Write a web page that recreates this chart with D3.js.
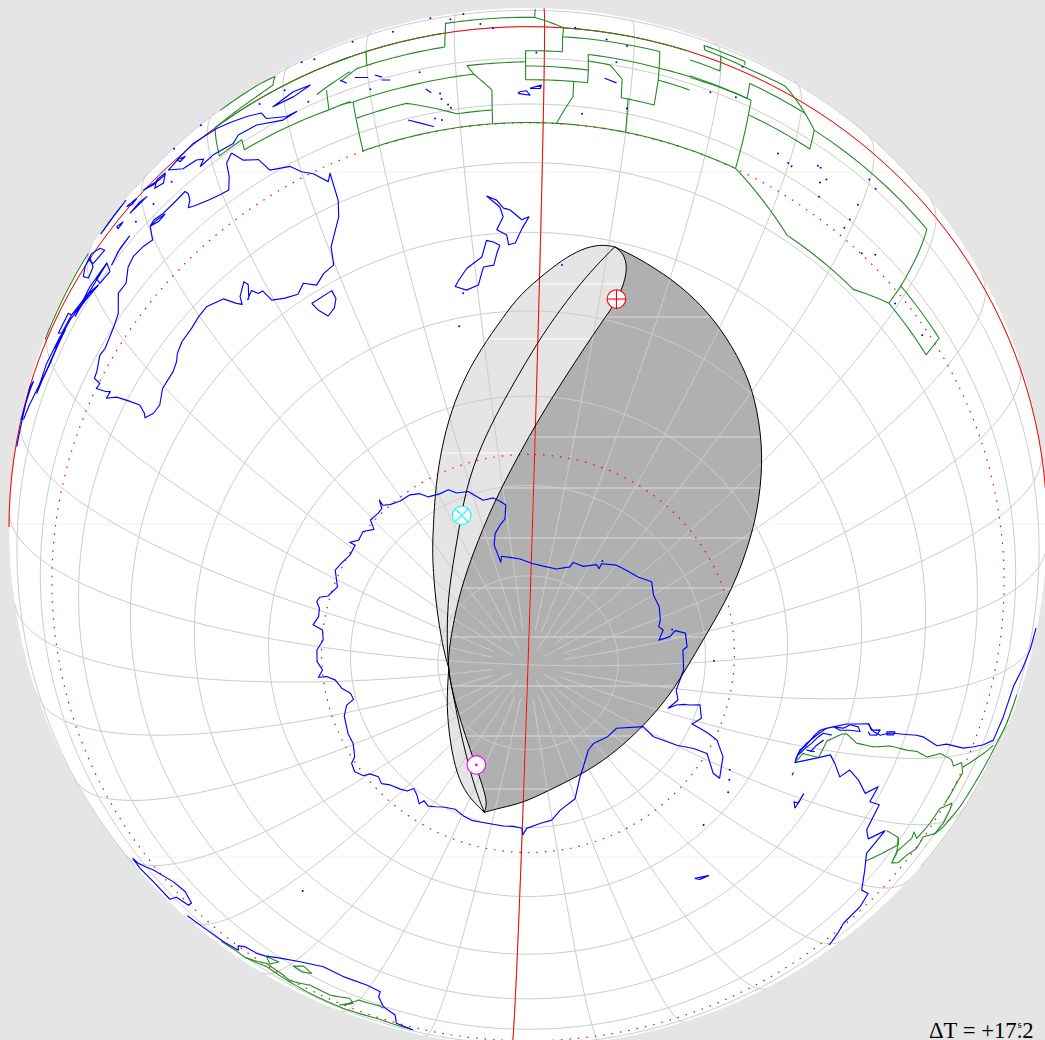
<!DOCTYPE html>
<html>
<head>
<meta charset="utf-8">
<script src="https://cdn.jsdelivr.net/npm/d3@7"></script>
<style>
body{margin:0;background:#e5e5e5;overflow:hidden}
svg{display:block}
.coast,.border,.grid,.ecl,.red{fill:none}
.coast{stroke:#0000ff;stroke-width:1.15;stroke-linejoin:round}
.border{stroke:#228b22;stroke-width:1.1;stroke-linejoin:round}
.grid{stroke:#cccccc;stroke-width:1}
.ecl{stroke:#000;stroke-width:1}
</style>
</head>
<body>
<div id="map"></div>
<script>
// everything below is lon,lat pairs in tenths of a degree, lon running 0..3600
var antarctica=[3598,-690,1,-699,29,-701,62,-700,100,-700,138,-699,165,-698,195,-700,229,-704,266,-700,289,-695,308,-691,329,-694,334,-687,359,-695,380,-699,389,-691,408,-687,438,-682,457,-675,479,-678,500,-672,505,-664,527,-658,552,-661,565,-669,603,-676,637,-676,691,-680,723,-687,738,-697,759,-695,778,-686,804,-680,815,-670,813,-660,834,-666,857,-660,890,-660,921,-667,949,-665,957,-653,983,-658,1006,-657,1021,-652,1035,-654,1047,-663,1082,-670,1122,-660,1148,-663,1180,-667,1212,-666,1209,-659,1229,-666,1256,-664,1282,-672,1294,-662,1323,-663,1339,-662,1349,-653,1347,-660,1364,-665,1393,-669,1426,-670,1452,-675,1469,-683,1505,-686,1533,-686,1553,-693,1589,-696,1610,-704,1628,-710,1663,-710,1684,-715,1702,-720,1692,-735,1668,-741,1641,-749,1624,-761,1628,-769,1634,-781,1646,-775,1687,-778,1739,-781,1802,-786,1869,-788,1946,-788,2012,-781,2019,-775,2075,-774,2126,-765,2147,-767,2143,-761,2201,-752,2258,-748,2302,-744,2352,-735,2401,-741,2455,-741,2508,-745,2533,-749,2553,-745,2591,-752,2587,-739,2569,-732,2588,-721,2639,-721,2649,-726,2726,-725,2805,-730,2842,-725,2882,-733,2862,-725,2854,-717,2852,-710,2845,-698,2887,-691,2913,-699,2919,-688,2926,-676,2937,-662,2974,-645,3029,-633,3025,-644,2983,-665,2985,-683,2998,-703,3009,-733,2991,-750,3062,-775,3123,-776,3205,-781,3248,-778,3314,-763,3349,-753,3402,-729,3467,-719,3502,-708,3542,-705,3586,-699,3598,-690];
var australia=[1426,-108,1417,-123,1415,-154,1409,-178,1397,-175,1381,-168,1364,-158,1355,-151,1360,-139,1361,-123,1358,-113,1339,-116,1323,-116,1309,-110,1302,-115,1298,-146,1284,-139,1267,-136,1255,-143,1243,-165,1228,-164,1214,-193,1198,-202,1174,-210,1163,-207,1146,-219,1138,-221,1139,-237,1131,-235,1137,-254,1142,-264,1132,-263,1143,-280,1151,-303,1158,-324,1154,-338,1150,-342,1163,-351,1178,-353,1197,-343,1224,-342,1237,-337,1245,-330,1260,-324,1282,-322,1298,-318,1315,-316,1340,-326,1352,-345,1358,-352,1361,-341,1376,-327,1379,-335,1370,-352,1368,-352,1379,-345,1385,-355,1392,-356,1397,-375,1415,-384,1434,-390,1448,-381,1464,-393,1480,-384,1498,-380,1504,-355,1527,-320,1533,-296,1533,-249,1528,-261,1513,-237,1500,-224,1489,-205,1464,-191,1455,-159,1437,-140,1426,-108];
var tasmania=[1446,-411,1481,-410,1482,-422,1474,-432,1460,-437,1450,-423,1446,-411];
var nzSouth=[1740,-416,1731,-411,1721,-408,1712,-429,1687,-441,1672,-454,1665,-461,1682,-468,1702,-464,1713,-442,1729,-441,1735,-426,1740,-416];
var nzNorth=[1726,-347,1743,-364,1747,-378,1737,-395,1751,-403,1753,-416,1763,-414,1773,-395,1783,-379,1773,-383,1757,-369,1748,-366,1739,-354,1726,-347];
var newGuinea=[1513,-100,1500,-100,1476,-77,1471,-53,1453,-37,1413,-7,1380,5,1361,-4,1343,-15,1363,-53,1382,-60,1391,-73,1385,-85,1404,-81,1431,-88,1439,-75,1463,-79,1495,-104,1513,-100];
var islands=[
  [1302,-115,1312,-116,1325,-121,1314,-123,1302,-115],
  [1236,-100,1251,-90,1272,-86,1255,-88,1236,-100],
  [1161,-89,1192,-88,1231,-82,1197,-79,1161,-89],
  [1114,-72,1152,-77,1173,-87,1194,-93,1209,-102],
  [1280,-27,1297,-26,1308,-33,1289,-30,1280,-27],
  [1224,52,1248,56,1270,62],
  [1303,5,1325,-16,1338,-21,1319,-16,1303,5],
  [1356,-5,1368,-20,1360,-22,1356,-5],
  [1257,-18,1268,-29,1259,-31,1257,-18],
  [979,-17,999,-18,1024,-11,1045,-2,1057,-21,1045,-14,1006,-3],
  [1014,-29,1054,-59,1088,-76,1127,-77,1140,-78],
  [1057,-68,1098,-79,1140,-78,1128,-71,1092,-63,1057,-68],
  [1157,-73,1192,-88,1209,-102,1177,-89,1157,-73],
  [1275,14,1292,0,1284,-4,1275,14],
  [1209,12,1226,-17,1233,-43,1211,-34,1203,5,1209,12],
  [1191,-27,1199,-54,1210,-43,1206,8,1196,-1,1191,-27],
  [1325,-10,1338,-15,1334,-43,1321,-33,1325,-10],
  [1231,-108,1231,-82,1210,-83,1212,-103,1231,-108],
  [1133,-71,1157,-73,1153,-56,1128,-56,1133,-71],
  [1533,-44,1512,-40,1486,-54,1512,-56,1533,-44],
  [1770,-179,1784,-183,1780,-174,1772,-176,1770,-179],
  [1784,-169,1797,-162,1796,-169,1784,-169],
  [1639,-203,1668,-225,1653,-214,1639,-203],
  [1869,-135,1883,-141],[1585,-74,1600,-86],[1608,-85,1616,-96],[1615,-103,1625,-109],[1568,-66,1575,-82],[1664,-149,1670,-159],
  [3242,-549,3219,-540,3236,-543,3242,-549],
  [3021,-517,2990,-518,3010,-517,3010,-524,3021,-517],
  [2962,-548,2956,-548],
  [2930,-554,2908,-554,2896,-548,2877,-543,2863,-537,2858,-529],
  [2919,-553,2903,-548,2891,-542,2876,-536,2868,-531,2870,-518],
  [2908,-539,2893,-534,2881,-527],
  [2906,-545,2906,-533],
  [2854,-520,2855,-505,2848,-496,2851,-483,2859,-478,2858,-494,2859,-509,2854,-520],
  [2844,-469,2856,-461,2855,-447,2864,-450,2864,-461,2859,-465],
  [2858,-435,2858,-421,2863,-422,2863,-433,2858,-435]
];
var tinyIslands=[1286,-70,1347,77,1386,84,1345,-61,1315,-73,1520,86,1537,63,1470,-20,1528,-89,1502,-20,1671,116,1709,103,1729,21,1743,-2,1695,70,1630,64,1582,84,1659,-107,1791,-85,1834,4,1869,-27,1892,-38,1881,-91,1846,-213,1898,-190,1680,-164,1681,-176,1688,-189,1691,-196,1671,-211,1679,-216,1601,-117,1834,-441,1660,-510,1676,-471,1991,-104,2021,-91,2084,-169,2099,-176,2104,-178,2134,-145,2138,-145,2143,-174,2149,-160,2148,-200,2199,-89,2210,-98,2196,-161,2194,-198,2192,-218,2226,-233,2242,-216,2296,-252,2349,-247,2026,21,2139,-758,2698,-690,2999,-628,3022,-621,3050,-612,3146,-606,2561,-735,377,-470];
var southAmericaWest=[2936,-553,2916,-554,2893,-549,2873,-539,2858,-529,2854,-520,2847,-502,2846,-484,2845,-469,2858,-457,2864,-444,2860,-429,2862,-405,2864,-380,2867,-366,2882,-330,2881,-309,2891,-261,2895,-196,2896,-156,2868,-149,2831,-145,2801,-87,2781,-64];
var southAmericaEast=[2936,-553,2916,-524,2907,-509,2921,-497,2943,-480,2928,-470,2942,-449,2962,-426,2948,-410,2974,-410,2976,-390,3018,-384,3031,-369,3014,-347,3053,-351,3078,-326,3108,-291,3111,-265,3133,-249,3163,-244,3196,-202,3202,-194];
var madagascar=[506,-160,500,-172,493,-219,473,-254,456,-262,437,-247,434,-229,448,-213,442,-165,471,-166,490,-153,506,-160];
var africa=[414,-166,394,-185,368,-198,350,-215,357,-235,353,-253,337,-260,329,-271,314,-300,295,-324,268,-346,238,-346,205,-351,184,-346,182,-328,169,-298,150,-278,142,-233,119,-213];
var borders=[
  [2936,-553,2914,-548,2916,-524,2882,-522,2866,-504,2865,-497,2880,-477,2884,-448,2881,-421,2887,-388,2889,-368,2898,-342,2894,-316,2905,-281,2915,-268,2912,-248,2928,-229,2942,-232,2958,-233,2970,-235],
  [3064,-339,3041,-309,3032,-294,3021,-307,3013,-344],
  [3021,-307,3042,-285,3060,-275,3059,-256,3047,-248,3037,-231,3019,-237,3016,-200,3003,-192,2983,-200,2972,-209,2977,-242,2999,-245,3021,-255,3011,-276,3021,-270,3040,-284,3060,-275],
  [3018,-202,3009,-180,2984,-155,2950,-143,2907,-122,2886,-102,2851,-101],
  [2905,-143,2911,-196,2919,-236],
  [368,-189,351,-200,336,-198,318,-245,292,-238,280,-227,260,-260,232,-258,211,-282,203,-265,213,-225,201,-289,173,-296,168,-291],
  [336,-198,313,-229,283,-220,249,-212,206,-209,166,-225,121,-215],
  [296,-298,287,-317,272,-308,282,-295,296,-298],
  [327,-273,312,-282,315,-252,327,-273],
  [1096,19,1146,33,1186,43,1200,44],
  [1227,52,1262,60],
  [1413,88,1465,96,1487,79,1487,28,1466,17,1411,0,1411,-95,1442,-93,1442,-120,1549,-130,1576,-130],
  [1411,0,1445,0,1500,0,1581,0],
  [1539,-80,1580,-52],
  [1551,-79,1550,-130],
  [1569,0,1600,0,1646,0,1690,0,1690,47,1721,46,1789,45,1821,0,1869,0,1925,0,1960,0],
  [1790,118,1789,45],
  [1568,-71,1588,-50,1599,-50,1646,-50,1689,-50,1690,0],
  [1600,0,1600,-50],
  [1564,-129,1579,-133,1643,-134,1720,-132,1713,-110,1758,-110,1779,-109],
  [1820,-34,1820,-80,1779,-80,1779,-151,1850,-150,1850,-121,1779,-119],
  [1820,-34,1821,0],
  [1850,-121,1849,-81,1931,-83,1966,-82],
  [1849,-98,1874,-101,1889,-131,1890,-171,1929,-171,1930,-114,1967,-116],
  [1820,-34,1929,-32,1930,-114],
  [1720,-132,1740,-170,1739,-234],
  [1579,-133,1579,-234,1634,-234,1708,-234,1740,-234,1800,-234,1816,-234,1857,-234,1900,-234,1960,-234,1981,-234],
  [1580,-170,1640,-170,1697,-209,1739,-209],
  [1816,-234,1834,-182,1834,-152],
  [1900,-234,1898,-169],
  [1981,-234,2040,-234,2130,-291,2240,-291,2289,-261,2369,-262,2369,-221,2290,-221,2289,-261],
  [2040,-234,2039,-112,2039,-81,1965,-80],
  [2034,-81,2035,-33,2105,-35],
  [1964,-31,1999,-33,2000,30],
  [2034,-81,1966,-84],
  [2029,35,2030,56,1981,55,1981,31,2019,25,2034,23,2079,29,2105,-35,2119,-68,2289,-69,2290,-221],
  [2119,-68,2119,-121,2040,-120]
];
// limits of the eclipse
var tipNorth=[1909,-407], tipSouth=[134,-713], crossing=[843,-812];
var limitLeftUpper=[1892,-407,1868,-414,1840,-430,1811,-451,1768,-480,1739,-506,1691,-542,1644,-576,1595,-613,1547,-648,1492,-683,1426,-717,1389,-731,1328,-751,1187,-782,972,-805];
var limitLeftLower=[730,-811,512,-803,335,-785,229,-763,167,-743,133,-725];
var limitMiddle=[1874,-450,1836,-497,1798,-539,1751,-585,1699,-624,1640,-661,1577,-697,1509,-731,1392,-765,1254,-788,1068,-805,806,-811,654,-810,460,-796,300,-770,198,-739];
var limitInnerUpper=[1924,-413,1933,-429,1934,-448,1928,-475,1912,-501,1866,-566,1803,-629,1703,-696,1602,-738,1409,-781,1189,-804,930,-811];
var limitInnerLower=[648,-802,532,-791,407,-772,294,-746,216,-727];
var limitRight=[1943,-413,2005,-426,2063,-442,2117,-461,2176,-484,2227,-509,2291,-543,2352,-579,2407,-609,2503,-654,2625,-702,2813,-733,2991,-750,3188,-756,3345,-755,3504,-746,3600,-733,84,-723];
var markerPoints=[1927,-472,1540,-718,238,-767];
var markerColors=["#ff0000","#00ffff","#ff00ff"];
var markerKinds=["plus","cross","dot"];
var parallels=[-800,-700,-600,-500,-400,-300,-200,-100,0,100];
var tropics=[-234.4,-665.6];
var seamsFaint=[172,524,857];
var seamsDark=[317,437,488,538,588,637,686,736,789];
var seamsLight=[284,339,453];
var label="\u0394T = +17.2", labelSec="s";

var W=1045,H=1040;
var projection=d3.geoOrthographic().rotate([-178.17,74.6]).scale(519).translate([528,527]).clipAngle(90).precision(.3);
var path=d3.geoPath(projection).pointRadius(1);

function pairs(a){
  var o=[];
  for(var i=0;i<a.length;i+=2){
    var lon=a[i]/10;
    if(lon>180)lon-=360;
    o.push([lon,a[i+1]/10]);
  }
  return o;
}
// borders run along parallels, so step them in lon,lat and not along great circles
function stepped(a){
  var o=[];
  for(var i=0;i<a.length-2;i+=2){
    for(var k=0;k<8;k++){
      o.push(a[i]+(a[i+2]-a[i])*k/8,a[i+1]+(a[i+3]-a[i+1])*k/8);
    }
  }
  o.push(a[a.length-2],a[a.length-1]);
  return pairs(o);
}
function line(c){return {type:"LineString",coordinates:c};}

var svg=d3.select("#map").append("svg").attr("width",W).attr("height",H);
var rowY=d3.scaleIdentity();
svg.append("rect").attr("width",W).attr("height",H).attr("fill","#e5e5e5");
svg.append("path").datum({type:"Sphere"}).attr("d",path).attr("fill","#fff");

// faint raster seams across the disc
svg.selectAll(".seamf").data(seamsFaint).enter().append("line").attr("class","seamf")
  .attr("x1",d=>{return 528-Math.sqrt(519*519-(d-527)*(d-527))}).attr("x2",d=>{return 528+Math.sqrt(519*519-(d-527)*(d-527))})
  .attr("y1",d=>rowY(d)).attr("y2",d=>rowY(d)).attr("stroke","#f2f2f2");

// eclipse areas
var curve=d3.line().x(d=>projection(d)[0]).y(d=>projection(d)[1]).curve(d3.curveBasis);
function joined(){
  var s="";
  for(var i=0;i<arguments.length;i++){
    var d=curve(arguments[i]);
    s+=(i==0?d:"L"+d.slice(1));
  }
  return s;
}
var T=pairs(tipNorth),S=pairs(tipSouth),X=pairs(crossing);
var leftUp=T.concat(pairs(limitLeftUpper),X);
var leftLow=X.concat(pairs(limitLeftLower),S);
var innerUp=T.concat(pairs(limitInnerUpper),X);
var innerLow=X.concat(pairs(limitInnerLower),S);
var middle=T.concat(pairs(limitMiddle),S);
var right=T.concat(pairs(limitRight),S);
var rightBack=right.slice().reverse();

var areaLight=joined(leftUp,innerLow,rightBack)+"Z";
var areaDark=joined(innerUp,leftLow,rightBack)+"Z";
var defs=svg.append("defs");
defs.append("clipPath").attr("id","cl").append("path").attr("d",areaLight);
defs.append("clipPath").attr("id","cd").append("path").attr("d",areaDark);
svg.append("path").attr("d",areaLight).attr("fill","#e5e5e5");
var sl=svg.append("g").attr("clip-path","url(#cl)");
sl.selectAll("line").data(seamsLight).enter().append("line").attr("x1",0).attr("x2",W)
  .attr("y1",d=>rowY(d)).attr("y2",d=>rowY(d)).attr("stroke","#fff");
svg.append("path").attr("d",areaDark).attr("fill","#b0b0b0");
var sd=svg.append("g").attr("clip-path","url(#cd)");
sd.selectAll("line").data(seamsDark).enter().append("line").attr("x1",0).attr("x2",W)
  .attr("y1",d=>rowY(d)).attr("y2",d=>rowY(d)).attr("stroke","#dcdcdc");

// graticule: every 10 degrees, stopping short of the pole except on the main axes
var grid=svg.append("g");
d3.range(-180,180,10).forEach(function(lon){
  var stop=(lon%90==0)?-90:(lon%30==0?-88:-86);
  grid.append("path").attr("class","grid").datum(line(d3.range(stop,81,2).map(lat=>[lon,lat]))).attr("d",path);
});
parallels.forEach(function(p){
  grid.append("path").attr("class","grid").datum(line(d3.range(-180,181,2).map(lon=>[lon,p/10]))).attr("d",path);
});

// equator, tropic, polar circle, prime meridian
var red=svg.append("g");
tropics.forEach(function(p){
  red.append("path").attr("class","red").datum(line(d3.range(-180,181,2).map(lon=>[lon,p/10]))).attr("d",path)
    .attr("stroke","#ff0000").attr("stroke-width",1.2).attr("stroke-dasharray","1.5 7");
});
red.append("path").attr("class","red").datum(line(d3.range(-180,181,2).map(lon=>[lon,0]))).attr("d",path).attr("stroke","#ff0000");
[0,180].forEach(function(lon){
  red.append("path").attr("class","red").datum(line(d3.range(-90,81,2).map(lat=>[lon,lat]))).attr("d",path).attr("stroke","#ff0000");
});

// land
var bg=svg.append("g");
borders.forEach(function(b){
  bg.append("path").attr("class","border").datum(line(stepped(b))).attr("d",path);
});
var coasts=[antarctica,australia,tasmania,nzSouth,nzNorth,newGuinea,southAmericaWest,southAmericaEast,madagascar,africa].concat(islands);
var cg=svg.append("g");
coasts.forEach(function(c){
  cg.append("path").attr("class","coast").datum(line(pairs(c))).attr("d",path);
});
cg.append("path").datum({type:"MultiPoint",coordinates:pairs(tinyIslands)}).attr("d",path).attr("fill","#0000ff");

// limit curves on top
[leftUp,leftLow,middle,innerUp,innerLow,right].forEach(function(c){
  svg.append("path").attr("class","ecl").attr("d",curve(c));
});

// sun and moon positions
pairs(markerPoints).forEach(function(p,i){
  var c=projection(p),col=markerColors[i],k=markerKinds[i],r=9.3;
  var m=svg.append("g").attr("transform","translate("+c[0]+","+c[1]+")").attr("stroke",col).attr("stroke-width",1.1);
  m.append("circle").attr("r",r).attr("fill","#fff");
  if(k=="plus"){
    m.append("line").attr("x1",-r).attr("x2",r);
    m.append("line").attr("y1",-r).attr("y2",r);
  }else if(k=="cross"){
    var q=r*Math.SQRT1_2;
    m.append("line").attr("x1",-q).attr("y1",-q).attr("x2",q).attr("y2",q);
    m.append("line").attr("x1",-q).attr("y1",q).attr("x2",q).attr("y2",-q);
  }else{
    m.append("circle").attr("r",.8).attr("fill",col);
  }
});

svg.append("text").attr("x",929).attr("y",1037.5).attr("font-family","'Liberation Serif',serif").attr("font-size",22.7).attr("fill","#000").text(label);
svg.append("text").attr("x",1017.5).attr("y",1027.5).attr("font-family","'Liberation Serif',serif").attr("font-size",11).attr("fill","#000").text(labelSec);
</script>
</body>
</html>
